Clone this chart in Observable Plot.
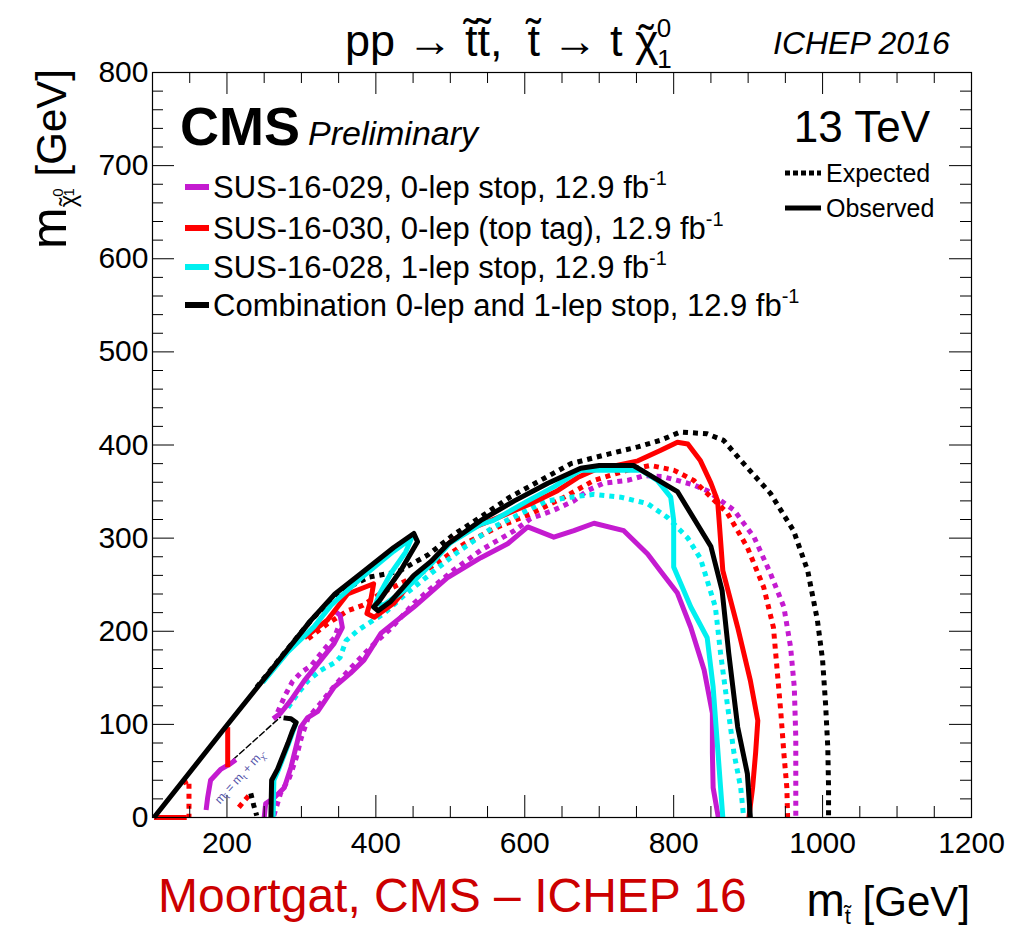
<!DOCTYPE html>
<html><head><meta charset="utf-8">
<script src="https://cdn.jsdelivr.net/npm/d3@7"></script>
<script src="https://cdn.jsdelivr.net/npm/@observablehq/plot@0.6"></script>
<style>body{margin:0;background:#fff;} svg{display:block}</style>
</head><body><div id="chart"></div>
<script>
// ---- tick values / labels ----
const xTickLabels = [200, 400, 600, 800, 1000, 1200];
const xMinorTicks = [150, 250, 300, 350, 450, 500, 550, 650, 700, 750, 850, 900, 950, 1050, 1100, 1150];
const yTickLabels = [0, 100, 200, 300, 400, 500, 600, 700, 800];
const yMinorTicks = [20,40,60,80,120,140,160,180,220,240,260,280,320,340,360,380,420,440,460,480,520,540,560,580,620,640,660,680,720,740,760,780];

// ---- legend ----
const legendLabels = ["SUS-16-029, 0-lep stop, 12.9 fb", "SUS-16-030, 0-lep (top tag), 12.9 fb", "SUS-16-028, 1-lep stop, 12.9 fb", "Combination 0-lep and 1-lep stop, 12.9 fb"];
const legendColors = ["#c41bd0", "#ff0000", "#00f0f0", "#000000"];

// ---- contours [m_stop, m_LSP] ----
// SUS-16-029 (purple)
const purpleExp = [[263,2],[272,26],[284,43],[293,64],[300,86],[309,107],[325,122],[345,142],[368,162],[393,183],[420,203],[451,230],[474,246],[505,266],[541,287],[586,308],[608,321],[639,330],[666,340],[684,351],[706,359],[738,362],[760,367],[785,366],[805,362],[827,357],[845,351],[881,330],[908,301],[930,262],[948,226],[957,183],[962,140],[964,86],[964,32],[964,0]];
const purpleExpUp = [[268,113],[278,131],[288,146],[300,156],[313,163],[329,179],[344,193],[350,205]];
const purpleObs = [[250,0],[252,15],[263,21],[277,32],[286,54],[295,83],[299,97],[308,107],[322,114],[344,140],[366,155],[384,169],[407,198],[451,226],[497,258],[541,279],[577,294],[604,312],[639,301],[666,308],[693,316],[733,308],[765,283],[782,265],[805,241],[823,204],[841,158],[852,112],[852,69],[853,32],[860,0]];
const purpleObsUp = [[262,106],[272,112],[286,126],[304,147],[326,169],[344,187],[355,204],[352,217],[346,221]];
const purpleObsLeft = [[172,8],[174,21],[178,40],[192,52],[205,58],[212,62]];
// SUS-16-030 (red)
const redExp = [[309,192],[335,208],[362,222],[383,228],[405,240],[430,250],[460,262],[474,269],[519,294],[564,312],[608,326],[653,344],[693,362],[738,373],[769,378],[800,373],[827,362],[845,348],[872,327],[899,290],[921,247],[934,204],[939,158],[944,112],[948,69],[952,32],[953,0]];
const redExpLow = [[141,37],[149,40],[149,0]];
const redExpLow2 = [[216,11],[232,26]];
const redObs = [[304,193],[335,212],[362,240],[397,251],[393,233],[388,219],[398,215],[424,230],[451,256],[474,274],[500,296],[530,311],[564,322],[608,337],[644,351],[671,365],[693,373],[752,383],[782,394],[805,403],[819,401],[836,383],[850,359],[859,340],[861,319],[866,265],[886,204],[903,147],[913,104],[910,69],[906,32],[901,0]];
const redObsVert = [[201,97],[201,54]];
const redObsBottom = [[102,0],[146,0]];
// SUS-16-028 (cyan)
const cyanExp = [[282,118],[295,133],[309,147],[326,158],[344,166],[352,172],[360,190],[376,201],[389,208],[411,219],[440,240],[474,262],[510,285],[558,312],[604,330],[630,340],[662,344],[693,347],[729,344],[765,337],[792,322],[819,300],[836,278],[856,226],[863,176],[872,122],[881,69],[890,32],[894,0]];
const cyanObs = [[248,145],[282,178],[317,205],[340,228],[380,257],[424,286],[448,300],[440,285],[420,262],[405,240],[400,230],[410,228],[440,245],[474,272],[500,295],[541,315],[558,319],[604,340],[639,355],[675,373],[716,373],[756,373],[778,362],[796,344],[800,319],[800,269],[823,226],[845,193],[853,140],[858,86],[863,32],[866,0]];
const cyanObsLow = [[262,0],[263,40],[270,53],[283,80],[292,100]];
// Combination (black)
const comboExp = [[240,140],[313,212],[350,242],[390,258],[430,264],[470,282],[505,304],[545,325],[580,344],[621,362],[662,380],[716,391],[752,398],[782,405],[809,414],[845,412],[867,405],[894,380],[930,348],[961,308],[980,265],[993,212],[1000,169],[1004,122],[1007,75],[1008,32],[1008,0]];
const comboExpLow = [[232,26],[236,13],[240,2]];
const comboObs = [[102,0],[200,99],[313,212],[345,240],[380,262],[424,290],[451,305],[456,296],[434,266],[405,233],[397,226],[403,222],[420,232],[451,260],[474,275],[497,294],[541,319],[586,340],[631,359],[675,375],[700,378],[746,378],[765,369],[805,350],[850,291],[865,244],[874,176],[886,97],[899,47],[903,0]];
const comboObsLow = [[259,0],[260,40],[268,52],[282,80],[288,93],[293,102],[286,106],[276,107]];
// kinematic line m_stop = m_top + m_LSP
const kinLine = [[208,62],[272,108]];

const PURPLE = "#c41bd0", RED = "#ff0000", CYAN = "#00f0f0", BLACK = "#000000";
const FONT = "'Liberation Sans', Arial, Helvetica, sans-serif";

const dotted = [[purpleExp, PURPLE],[purpleExpUp, PURPLE],[redExp, RED],[redExpLow, RED],[redExpLow2, RED],[cyanExp, CYAN],[comboExp, BLACK],[comboExpLow, BLACK]];
const solid = [[purpleObs, PURPLE],[purpleObsUp, PURPLE],[purpleObsLeft, PURPLE],[redObs, RED],[redObsVert, RED],[redObsBottom, RED],[cyanObs, CYAN],[cyanObsLow, CYAN],[comboObs, BLACK],[comboObsLow, BLACK]];

const W = 1026, H = 930, mL = 152, mR = 55, mT = 72, mB = 113;
const fw = W - mL - mR, fh = H - mT - mB;
const acc = {x: d => d[0], y: d => d[1]};

const marks = [
  ...dotted.map(([pts, c]) => Plot.line(pts, {...acc, stroke: c, strokeWidth: 5, strokeDasharray: "5,5", strokeLinecap: "butt"})),
  Plot.line(kinLine, {...acc, stroke: "#000", strokeWidth: 1.5, strokeDasharray: "6,3"}),
  ...solid.map(([pts, c]) => Plot.line(pts, {...acc, stroke: c, strokeWidth: 5, strokeLinejoin: "round", strokeLinecap: "butt"})),
  // ticks (inside the frame, ROOT style)
  Plot.ruleX(xTickLabels, {insetTop: fh - 22, stroke: "#000", strokeWidth: 1}),
  Plot.ruleX(xMinorTicks, {insetTop: fh - 11, stroke: "#000", strokeWidth: 1}),
  Plot.ruleX(xTickLabels, {insetBottom: fh - 22, stroke: "#000", strokeWidth: 1}),
  Plot.ruleX(xMinorTicks, {insetBottom: fh - 11, stroke: "#000", strokeWidth: 1}),
  Plot.ruleY(yTickLabels, {insetRight: fw - 22, stroke: "#000", strokeWidth: 1}),
  Plot.ruleY(yMinorTicks, {insetRight: fw - 11, stroke: "#000", strokeWidth: 1}),
  Plot.ruleY(yTickLabels, {insetLeft: fw - 22, stroke: "#000", strokeWidth: 1}),
  Plot.ruleY(yMinorTicks, {insetLeft: fw - 11, stroke: "#000", strokeWidth: 1}),
  Plot.axisX({ticks: xTickLabels, tickSize: 0, tickPadding: 14, tickFormat: d => String(d), label: null, fontSize: 30, fill: "#000"}),
  Plot.axisY({ticks: yTickLabels, tickSize: 0, tickPadding: 4, tickFormat: d => String(d), label: null, fontSize: 30, fill: "#000"}),
  Plot.frame({stroke: "#000", strokeWidth: 1.2})
];

const plot = Plot.plot({
  width: W, height: H,
  marginLeft: mL, marginRight: mR, marginTop: mT, marginBottom: mB,
  x: {domain: [100, 1200]},
  y: {domain: [0, 800]},
  style: {fontFamily: FONT, background: "#fff", color: "#000"},
  marks
});
document.getElementById("chart").appendChild(plot);

// ---- annotations ----
const svg = d3.select(plot);
function txt(x, y, size, opts = {}) {
  const t = svg.append("text").attr("x", x).attr("y", y).attr("font-size", size)
    .attr("font-family", FONT).attr("fill", opts.fill || "#000")
    .attr("text-anchor", opts.anchor || "start");
  if (opts.italic) t.attr("font-style", "italic");
  if (opts.bold) t.attr("font-weight", "bold");
  if (opts.transform) t.attr("transform", opts.transform);
  return t;
}
// title
{
  const t = txt(345, 56, 45);
  t.append("tspan").text("pp \u2192 t\u0303t\u0303,\u00a0\u00a0t\u0303 \u2192 t \u03c7");
  t.append("tspan").attr("dx", -20).text("\u02dc");
  t.append("tspan").attr("font-size", 26).attr("dx", 3).attr("dy", -19).text("0");
  t.append("tspan").attr("font-size", 26).attr("dx", -14).attr("dy", 31).text("1");
}
txt(773, 54, 32, {italic: true}).text("ICHEP 2016");
txt(180, 145, 54, {bold: true}).text("CMS");
txt(308, 145, 34, {italic: true}).text("Preliminary");
txt(930, 142, 44, {anchor: "end"}).text("13 TeV");

// legend
const rowY = [187, 228, 267, 305];
legendLabels.forEach((lab, i) => {
  svg.append("line").attr("x1", 185).attr("x2", 209).attr("y1", rowY[i]).attr("y2", rowY[i])
    .attr("stroke", legendColors[i]).attr("stroke-width", 6);
  const t = txt(213, rowY[i] + 11, 31);
  t.append("tspan").text(lab);
  t.append("tspan").attr("font-size", 20).attr("dy", -13).text("-1");
});
svg.append("line").attr("x1", 785).attr("x2", 821).attr("y1", 173).attr("y2", 173)
  .attr("stroke", "#000").attr("stroke-width", 5).attr("stroke-dasharray", "5,3");
txt(826, 182, 25).text("Expected");
svg.append("line").attr("x1", 785).attr("x2", 821).attr("y1", 208).attr("y2", 208)
  .attr("stroke", "#000").attr("stroke-width", 5);
txt(826, 217, 25).text("Observed");

// kinematic-line label
{
  const t = txt(0, 0, 12, {fill: "#5050a8", anchor: "middle", transform: "translate(242,780) rotate(-48)"});
  t.append("tspan").text("m");
  t.append("tspan").attr("font-size", 8).attr("dy", 3).text("t\u0303");
  t.append("tspan").attr("dy", -3).text(" = m");
  t.append("tspan").attr("font-size", 8).attr("dy", 3).text("t");
  t.append("tspan").attr("dy", -3).text(" + m");
  t.append("tspan").attr("font-size", 8).attr("dy", 3).text("\u03c7\u0303");
}

// axis titles
{
  const t = txt(0, 0, 42, {anchor: "end", transform: "translate(66,69) rotate(-90)"});
  t.append("tspan").attr("font-size", 50).text("m");
  t.append("tspan").attr("font-size", 24).attr("dy", 10).text("\u03c7");
  t.append("tspan").attr("font-size", 24).attr("dx", -11).text("\u02dc");
  t.append("tspan").attr("font-size", 15).attr("dx", 1).attr("dy", -13).text("0");
  t.append("tspan").attr("font-size", 15).attr("dx", -8).attr("dy", 11).text("1");
  t.append("tspan").attr("dy", -8).text(" [GeV]");
}
{
  const t = txt(970, 916, 42, {anchor: "end"});
  t.append("tspan").attr("font-size", 46).text("m");
  t.append("tspan").attr("font-size", 22).attr("dy", 8).text("t\u0303");
  t.append("tspan").attr("dy", -8).text(" [GeV]");
}
txt(158, 912, 48, {fill: "#cc0000"}).text("Moortgat, CMS \u2013 ICHEP 16");
</script>
</body></html>
